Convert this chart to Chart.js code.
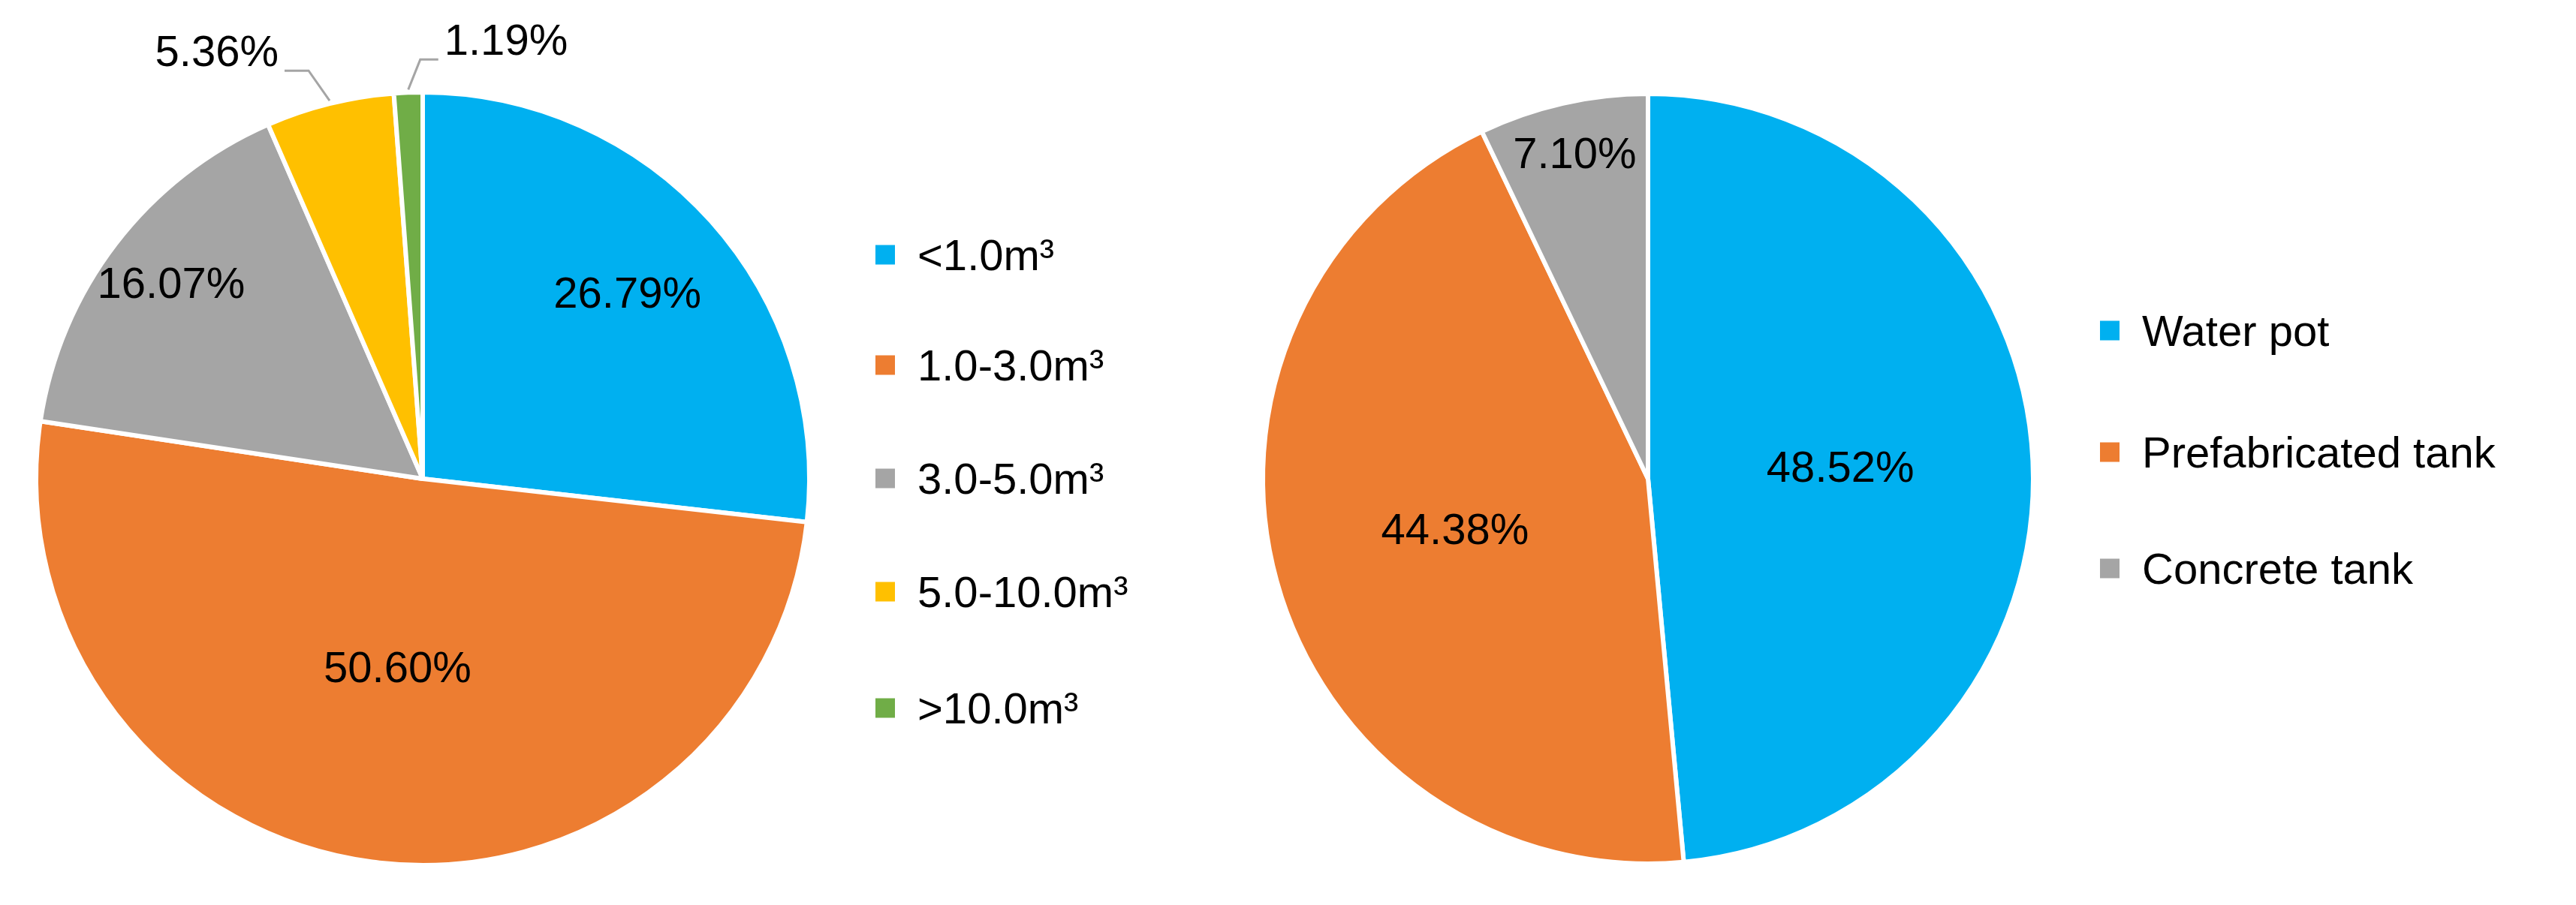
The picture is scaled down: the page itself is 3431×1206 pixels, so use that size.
<!DOCTYPE html>
<html><head><meta charset="utf-8">
<script src="https://cdn.jsdelivr.net/npm/chart.js@4/dist/chart.umd.min.js"></script>
<style>
body{margin:0;background:#fff;width:3431px;height:1206px;position:relative;overflow:hidden;font-family:"Liberation Sans",Arial,sans-serif}
canvas{position:absolute;top:0}
.leg{position:absolute;font-size:58px;color:#000;white-space:nowrap}
.leg div{position:absolute;left:0;display:flex;align-items:center;transform:translateY(-50%)}
.leg span.m{display:inline-block;width:26px;height:26px;margin-right:30px}
</style></head><body>
<canvas id="c1" width="1126" height="1206" style="left:0"></canvas>
<canvas id="c2" width="1126" height="1206" style="left:1632px"></canvas>
<div class="leg" id="l1" style="left:1166px;top:0"></div>
<div class="leg" id="l2" style="left:2797px;top:0"></div>
<script>
const volumeLabels = ['<1.0m³','1.0-3.0m³','3.0-5.0m³','5.0-10.0m³','>10.0m³'];
const volumeValues = [26.79, 50.60, 16.07, 5.36, 1.19];
const typeLabels = ['Water pot','Prefabricated tank','Concrete tank'];
const typeValues = [48.52, 44.38, 7.10];
const colors = ['#00B0F0','#ED7D31','#A5A5A5','#FFC000','#70AD47'];

const labelFactors1 = [0.71, 0.5, 0.82, null, null];
const labelFactors2 = [0.5, 0.52, 0.86];

function labelPlugin(factors){
  return {id:'lbl', afterDatasetsDraw(chart){
    const ctx = chart.ctx; const meta = chart.getDatasetMeta(0);
    ctx.save(); ctx.font = '58px "Liberation Sans", Arial, sans-serif'; ctx.fillStyle = '#000';
    ctx.textBaseline = 'middle';
    meta.data.forEach((arc,i)=>{
      const p = arc.getProps(['x','y','startAngle','endAngle','outerRadius'],true);
      const mid = (p.startAngle+p.endAngle)/2;
      const txt = chart.data.datasets[0].data[i].toFixed(2)+'%';
      const f = factors[i];
      if (f){
        ctx.textAlign='center';
        ctx.fillText(txt, p.x+Math.cos(mid)*p.outerRadius*f, p.y+Math.sin(mid)*p.outerRadius*f);
      } else {
        const ox = p.x+Math.cos(mid)*p.outerRadius, oy = p.y+Math.sin(mid)*p.outerRadius;
        const ey = oy-44, left = (i===3);
        const ex = ox + (left ? -28 : 16);
        const hx = ex + (left ? -32 : 24);
        ctx.strokeStyle='#A5A5A5'; ctx.lineWidth=3;
        ctx.beginPath(); ctx.moveTo(ox,oy-4); ctx.lineTo(ex,ey); ctx.lineTo(hx,ey); ctx.stroke();
        ctx.textAlign = left ? 'right' : 'left';
        ctx.fillText(txt, hx + (left ? -8 : 8), ey-22);
      }
    });
    ctx.restore();
  }};
}

function makePie(id, labels, values, pad, factors){
  return new Chart(document.getElementById(id), {
    type:'pie',
    data:{labels, datasets:[{data:values, backgroundColor:colors.slice(0,values.length), borderColor:'#fff', borderWidth:6}]},
    options:{responsive:false, devicePixelRatio:1, animation:false,
      layout:{padding:pad},
      plugins:{legend:{display:false}, tooltip:{enabled:false}}},
    plugins:[labelPlugin(factors)]
  });
}
makePie('c1', volumeLabels, volumeValues, {top:120,bottom:50,left:45,right:45}, labelFactors1);
makePie('c2', typeLabels, typeValues, {top:122,bottom:52,left:47,right:47}, labelFactors2);

function legend(id, labels, ys){
  const el = document.getElementById(id);
  labels.forEach((t,i)=>{
    const d = document.createElement('div'); d.style.top = ys[i]+'px';
    d.innerHTML = '<span class="m" style="background:'+colors[i]+'"></span>';
    d.appendChild(document.createTextNode(t)); el.appendChild(d);
  });
}
legend('l1', volumeLabels, [339,486,637,788,943]);
legend('l2', typeLabels, [440,602,757]);
</script></body></html>
